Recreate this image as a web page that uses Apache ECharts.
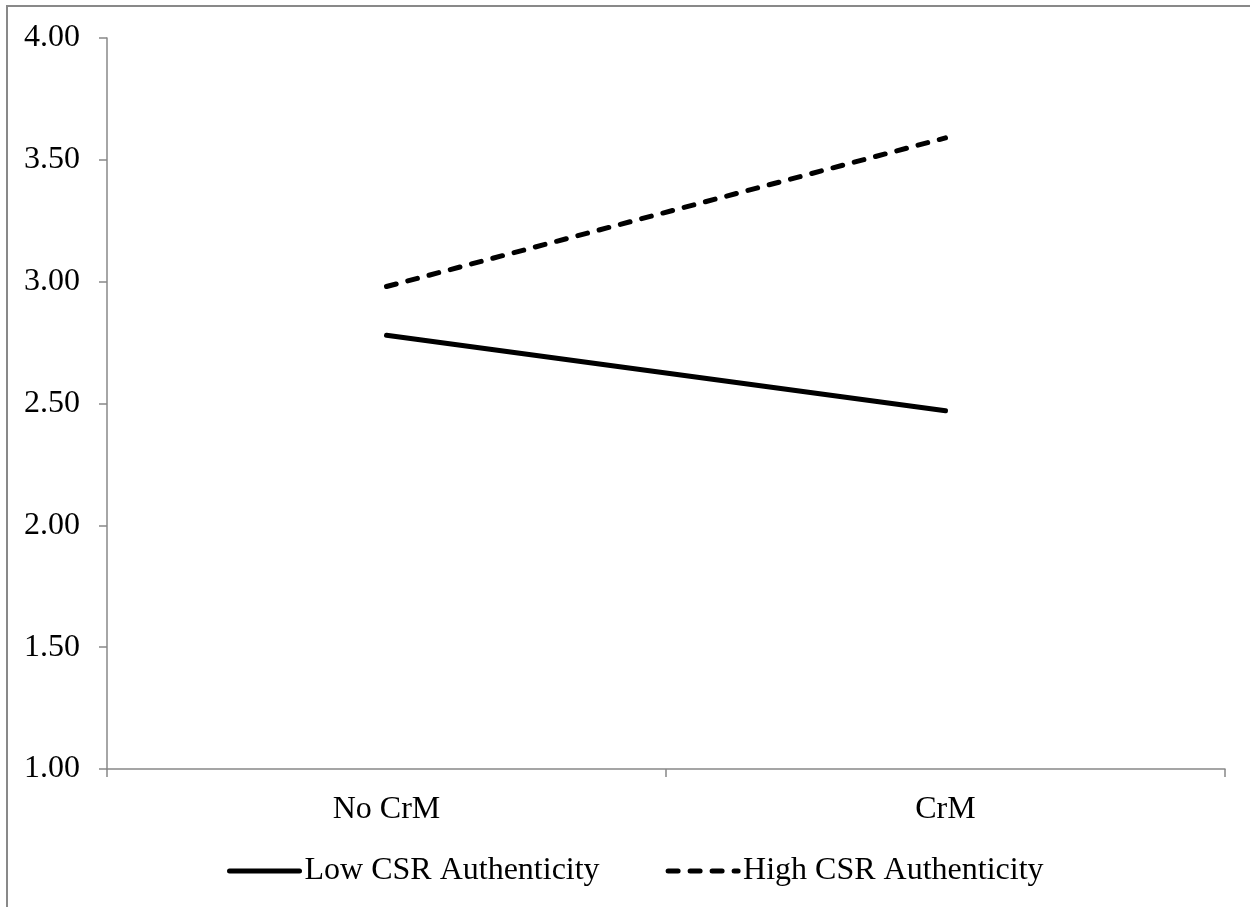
<!DOCTYPE html>
<html>
<head>
<meta charset="utf-8">
<style>
    html, body { margin: 0; padding: 0; background: #fff; overflow: hidden; }
    #chart { position: absolute; left: 0; top: 0; width: 1250px; height: 907px; }
    #frame { position: absolute; left: 6px; top: 5px; width: 1400px; height: 1100px; border: 2px solid #898989; pointer-events: none; }
</style>
<script src="https://cdn.jsdelivr.net/npm/echarts@6/dist/echarts.min.js"></script>
</head>
<body>
<div id="frame"></div>
<div id="chart"></div>
<script>
    // 数据
    const categories = ['No CrM', 'CrM'];
    const lowCSR = [2.78, 2.47];
    const highCSR = [2.98, 3.59];
    const seriesNames = ['Low CSR Authenticity', 'High CSR Authenticity'];

    const font = "'Liberation Serif', 'Times New Roman', serif";
    const axisGray = '#888888';

    const myChart = echarts.init(document.getElementById('chart'));
    const option = {
        animation: false,
        backgroundColor: 'transparent',
        grid: {
            left: 107,
            right: 25,
            top: 38,
            bottom: 138,
            containLabel: false,
        },
        legend: {
            data: seriesNames,
            left: 222,
            top: 850,
            itemWidth: 70,
            itemHeight: 14,
            itemGap: 66,
            lineStyle: { width: 5 },
            // 只显示线，不显示点
            itemStyle: { opacity: 0 },
            textStyle: {
                fontFamily: font,
                fontSize: 32,
                color: '#000',
            },
        },
        xAxis: {
            type: 'category',
            data: categories,
            boundaryGap: true,
            axisLine: { show: true, lineStyle: { color: axisGray, width: 1.5 } },
            axisTick: { show: true, length: 8, lineStyle: { color: axisGray, width: 1.5 } },
            axisLabel: {
                margin: 25,
                fontFamily: font,
                fontSize: 32,
                color: '#000',
            },
            splitLine: { show: false },
        },
        yAxis: {
            type: 'value',
            min: 1,
            max: 4,
            interval: 0.5,
            axisLine: { show: true, lineStyle: { color: axisGray, width: 1.5 } },
            axisTick: { show: true, length: 8, lineStyle: { color: axisGray, width: 1.5 } },
            axisLabel: {
                margin: 27,
                fontFamily: font,
                fontSize: 32,
                color: '#000',
                formatter: (v) => v.toFixed(2),
            },
            splitLine: { show: false },
        },
        series: [
            {
                name: seriesNames[0],
                type: 'line',
                data: lowCSR,
                symbol: 'none',
                lineStyle: { color: '#000', width: 5, type: 'solid', cap: 'round' },
                itemStyle: { color: '#000' },
            },
            {
                name: seriesNames[1],
                type: 'line',
                data: highCSR,
                symbol: 'none',
                lineStyle: { color: '#000', width: 5, type: [10, 12], cap: 'round' },
                itemStyle: { color: '#000' },
            },
        ],
    };
    myChart.setOption(option);
    window.onresize = myChart.resize;
</script>
</body>
</html>
